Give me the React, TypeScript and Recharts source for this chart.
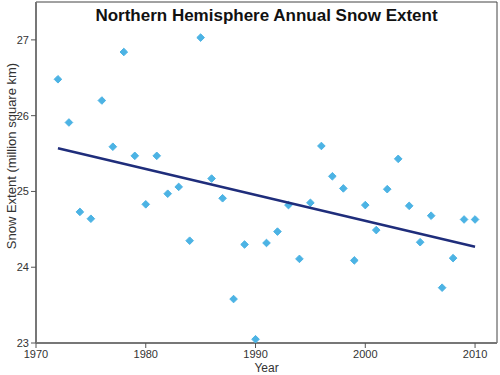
import { ScatterChart, Scatter, XAxis, YAxis, ReferenceArea } from 'recharts'

const years = [
  1972, 1973, 1974, 1975, 1976, 1977, 1978, 1979, 1980, 1981, 1982, 1983, 1984,
  1985, 1986, 1987, 1988, 1989, 1990, 1991, 1992, 1993, 1994, 1995, 1996, 1997,
  1998, 1999, 2000, 2001, 2002, 2003, 2004, 2005, 2006, 2007, 2008, 2009, 2010,
]
const snowExtent = [
  26.48, 25.91, 24.73, 24.64, 26.2, 25.59, 26.84, 25.47, 24.83, 25.47, 24.97, 25.06, 24.35,
  27.03, 25.17, 24.91, 23.58, 24.3, 23.05, 24.32, 24.47, 24.82, 24.11, 24.85, 25.6, 25.2,
  25.04, 24.09, 24.82, 24.49, 25.03, 25.43, 24.81, 24.33, 24.68, 23.73, 24.12, 24.63, 24.63,
]
const trendYears = [1972, 2010]
const trendValues = [25.57, 24.27]
const xTicks = [1970, 1980, 1990, 2000, 2010]
const yTicks = [23, 24, 25, 26, 27]

const points = years.map((year, i) => ({ year, value: snowExtent[i] }))
const trend = trendYears.map((year, i) => ({ year, value: trendValues[i] }))

const font = '"Liberation Sans", Arial, sans-serif'
const tick = { fontSize: 11, fill: '#333', fontFamily: font }

// small square diamond, like the original markers
const Diamond = (props: any) => {
  const { cx, cy } = props
  const r = 3.8
  return (
    <path
      d={`M${cx},${cy - r}L${cx + r},${cy}L${cx},${cy + r}L${cx - r},${cy}Z`}
      fill="#4cb3e4"
      stroke="#4cb3e4"
      strokeWidth={1}
      strokeLinejoin="round"
    />
  )
}

export default function App() {
  return (
    <div style={{ position: 'absolute', left: 0, top: 0, width: 500, height: 375, background: '#fff' }}>
      <ScatterChart width={500} height={375} margin={{ top: 2, right: 3, left: 0, bottom: 0 }}>
        <XAxis
          type="number"
          dataKey="year"
          domain={[1970, 2012]}
          ticks={xTicks}
          tick={tick}
          tickSize={5}
          tickMargin={2}
          height={32}
          axisLine={{ stroke: '#777', strokeWidth: 2 }}
          tickLine={{ stroke: '#555' }}
          label={{ value: 'Year', position: 'insideBottom', offset: 3, style: { fontSize: 12, fill: '#333', fontFamily: font } }}
        />
        <YAxis
          type="number"
          dataKey="value"
          domain={[23, 27.5]}
          ticks={yTicks}
          tick={tick}
          tickSize={5}
          width={36}
          axisLine={{ stroke: '#777', strokeWidth: 2 }}
          tickLine={{ stroke: '#555' }}
          label={{
            value: 'Snow Extent (million square km)',
            content: () => (
              <text
                transform="translate(16,156) rotate(-90)"
                textAnchor="middle"
                style={{ fontSize: 13, fill: '#333', fontFamily: font }}
              >
                Snow Extent (million square km)
              </text>
            ),
          }}
        />
        <ReferenceArea x1={1970} x2={2012} y1={23} y2={27.5} fill="none" stroke="#444" strokeWidth={1} />
        <Scatter data={points} shape={Diamond} isAnimationActive={false} />
        <Scatter
          data={trend}
          line={{ stroke: '#1f2d7b', strokeWidth: 2.5 }}
          shape={() => null}
          isAnimationActive={false}
        />
      </ScatterChart>
      <div
        style={{
          position: 'absolute',
          left: 36,
          width: 461,
          top: 6,
          textAlign: 'center',
          fontFamily: font,
          fontWeight: 'bold',
          fontSize: 17,
          color: '#111',
        }}
      >
        Northern Hemisphere Annual Snow Extent
      </div>
    </div>
  )
}
